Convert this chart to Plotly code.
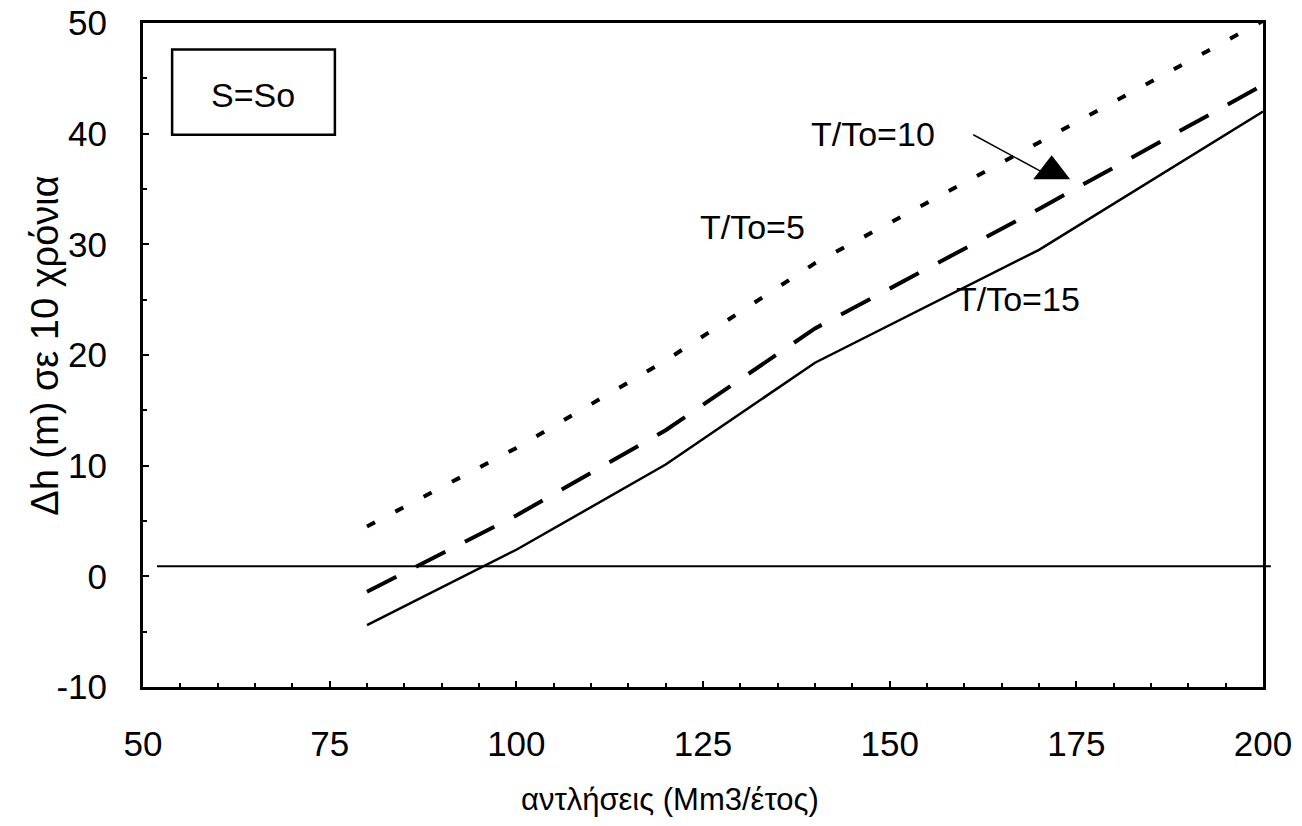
import plotly.graph_objects as go

# Data
x_vals = [80, 100, 120, 140, 170, 200]
tto5 = [4.5, 11.6, 19.5, 28.3, 39.2, 50.2]     # dotted
tto10 = [-1.4, 5.5, 13.2, 22.4, 33.2, 44.4]    # dashed
tto15 = [-4.4, 2.4, 10.1, 19.3, 29.5, 42.0]    # solid

x_ticks = [50, 75, 100, 125, 150, 175, 200]
x_labels = ["50", "75", "100", "125", "150", "175", "200"]
y_ticks = [-10, 0, 10, 20, 30, 40, 50]
y_labels = ["-10", "0", "10", "20", "30", "40", "50"]

x_title = "αντλήσεις (Mm3/έτος)"
y_title = "Δh (m) σε 10 χρόνια"

FONT = "Liberation Sans, Arial, sans-serif"

fig = go.Figure()
fig.add_trace(go.Scatter(x=x_vals, y=tto5, mode="lines",
                         line=dict(color="black", width=4, dash="9px,23px"),
                         showlegend=False))
fig.add_trace(go.Scatter(x=x_vals, y=tto10, mode="lines",
                         line=dict(color="black", width=4, dash="33px,22px"),
                         showlegend=False))
fig.add_trace(go.Scatter(x=x_vals, y=tto15, mode="lines",
                         line=dict(color="black", width=2.5),
                         showlegend=False))

# arrow head (upright filled triangle) for the T/To=10 label
fig.add_trace(go.Scatter(x=[171.7], y=[36.6], mode="markers",
                         marker=dict(symbol="triangle-up", size=32, color="black"),
                         showlegend=False, hoverinfo="skip"))

# near-zero reference line
fig.add_shape(type="line", xref="paper", yref="y", x0=0.0125, x1=1.007, y0=0.9, y1=0.9,
              line=dict(color="black", width=2), layer="above")
# arrow shaft
fig.add_shape(type="line", xref="x", yref="y", x0=161.2, y0=39.9, x1=170.5, y1=36.5,
              line=dict(color="black", width=1.5))
# S=So box
fig.add_shape(type="rect", xref="x", yref="y", x0=53.9, x1=75.7, y0=39.9, y1=47.6,
              line=dict(color="black", width=2.5), fillcolor="white")

ann_font = dict(family=FONT, size=34, color="black")
fig.add_annotation(x=64.7, y=43.5, text="S=So", showarrow=False, font=ann_font)
fig.add_annotation(x=147.8, y=40.0, text="T/To=10", showarrow=False, font=ann_font)
fig.add_annotation(x=131.6, y=31.6, text="T/To=5", showarrow=False, font=ann_font)
fig.add_annotation(x=167.2, y=25.1, text="T/To=15", showarrow=False, font=ann_font)

# axis titles placed as paper annotations (reference is off-centre)
fig.add_annotation(xref="paper", yref="paper", x=0.4705, y=-0.170, text=x_title,
                   showarrow=False, xanchor="center", yanchor="middle",
                   font=dict(family=FONT, size=31, color="black"))
fig.add_annotation(xref="paper", yref="paper", x=-0.0875, y=0.514, text=y_title,
                   showarrow=False, textangle=-90, xanchor="center", yanchor="middle",
                   font=dict(family=FONT, size=38, color="black"))

axis_common = dict(
    showline=True, linecolor="black", linewidth=3, mirror=True,
    showgrid=False, zeroline=False, automargin=False,
    ticks="inside", ticklen=6, tickwidth=1.5, tickcolor="black",
    tickfont=dict(family=FONT, size=35, color="black"),
)

fig.update_xaxes(range=[50, 200], tickvals=x_ticks, ticktext=x_labels,
                 minor=dict(dtick=5, ticks="inside", ticklen=4, tickcolor="black"),
                 ticklabelstandoff=24, **axis_common)
fig.update_yaxes(range=[-10, 50], tickvals=y_ticks, ticktext=y_labels,
                 minor=dict(dtick=5, ticks="inside", ticklen=4, tickcolor="black"),
                 ticklabelstandoff=26, **axis_common)

fig.update_layout(
    width=1302, height=826,
    margin=dict(l=143, r=39, t=23, b=139),
    paper_bgcolor="white", plot_bgcolor="white",
    showlegend=False,
)

fig.write_html("out.html")
